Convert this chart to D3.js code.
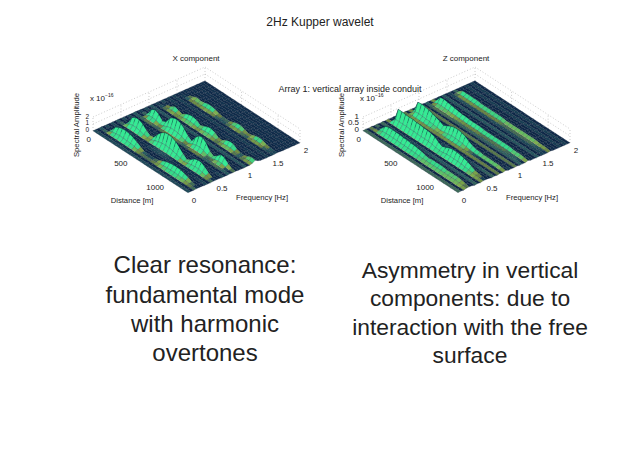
<!DOCTYPE html>
<html>
<head>
<meta charset="utf-8">
<script src="https://cdn.jsdelivr.net/npm/d3@7"></script>
<style>
body { margin:0; background:#fff; }
text { font-family:"Liberation Sans", Arial, sans-serif; fill:#222; }
</style>
</head>
<body>
<div id="chart"></div>
<script>
// distance rows, every 50 m
var distances = [0,50,100,150,200,250,300,350,400,450,500,550,600,650,700,750,800,850,900,950,1000,1050,1100,1150,1200,1250,1300];
// frequency columns, every 0.05 Hz
var freqs = [0,.05,.1,.15,.2,.25,.3,.35,.4,.45,.5,.55,.6,.65,.7,.75,.8,.85,.9,.95,1,1.05,1.1,1.15,1.2,1.25,1.3,1.35,1.4,1.45,1.5,1.55,1.6,1.65,1.7,1.75,1.8,1.85,1.9,1.95,2];

// shape of a ridge across frequency, columns -3..+3
var crossSection = [0,.03,.32,1,.3,.03,0];
// low level of the floor at each frequency column
var floorLevel = [.02,.05,.02,.06,.02,.05,.02,.05,.02,.06,.02,.05,.02,.05,.02,.06,.02,.04,.01,.04,.01,.05,.01,.03,.01,.04,.01,.03,.01,.03,.01,.02,.01,.02,.01,.02,.01,.02,.01,.02,.01];

var xRidgeCols = [4,10,17,24,32];
var xRidge1 = [0,0,.1,.9,1.2,1.4,1.4,1.3,1.1,.8,.4,.15,.1,.1,.1,.2,.45,.7,.85,.95,.95,.9,.7,.5,.2,.1,.05];
var xRidge2 = [0,0,.1,1.2,1.6,1.6,1.3,.7,.3,.4,1.2,1.8,2.2,2.3,2.2,1.9,1.4,.8,.3,.6,1.1,1.3,1.3,.9,.4,.1,.05];
var xRidge3 = [0,0,.1,1.1,1.4,1.1,.4,.7,1.6,2,2.1,1.9,1.4,.7,.3,1.2,1.8,1.9,1.4,.5,.2,.6,1.1,1,.4,.1,.05];
var xRidge4 = [0,0,.1,.25,.6,.4,.2,.55,.8,.85,.7,.3,.5,.8,.85,.6,.2,.2,.55,.75,.7,.3,.1,.1,.3,.5,.4];
var xRidge5 = [0,0,.05,.2,.4,.3,.4,.55,.55,.4,.2,.1,.1,.1,.3,.5,.5,.3,.1,.2,.4,.5,.4,.2,.1,.05,.05];

var zRidgeCols = [4,10,17,25,33];
var zRidge1 = [0,0,.15,.5,.6,.6,.6,.6,.55,.55,.5,.5,.45,.4,.3,.25,.3,.3,.3,.3,.25,.25,.25,.25,.2,.15,.08];
var zRidge2 = [0,.1,1.05,1.05,1,1,1,.95,.95,.9,.9,.85,.75,.55,.4,.5,.65,.7,.7,.65,.6,.5,.35,.2,.15,.1,.05];
var zRidge3 = [0,.1,.9,.95,.9,.85,.75,.65,.55,.4,.55,.7,.8,.8,.75,.65,.45,.3,.2,.2,.15,.15,.15,.15,.15,.1,.05];
var zRidge4 = [0,.1,.5,.55,.5,.45,.4,.35,.3,.3,.25,.25,.25,.25,.2,.2,.2,.2,.2,.2,.2,.2,.15,.15,.15,.1,.05];
var zRidge5 = [0,.05,.25,.25,.25,.25,.25,.2,.2,.2,.2,.2,.2,.2,.15,.15,.15,.15,.15,.15,.15,.15,.15,.1,.1,.08,.04];

var freqTicks = [0,.5,1,1.5,2];
var distTicks = [0,500,1000];
var xAmpTicks = [0,1,2];
var zAmpTicks = [0,.5,1];

var bigLeft = ["Clear resonance:","fundamental mode","with harmonic","overtones"];
var bigRight = ["Asymmetry in vertical","components: due to","interaction with the free","surface"];

var svg = d3.select("#chart").append("svg").attr("width",640).attr("height",452);

// colour of a cell from how far it rises towards the viewer, in pixels
var riseColor = d3.scaleLinear()
	.domain([-1,-.2,.05,.3,.6,1.2,2,3])
	.range(["#0d2a48","#0e2848","#11304e","#2a5f62","#6a8443","#7fae4c","#35d888","#36ea94"])
	.clamp(true);

function buildGrid(cols, ridges){
	return distances.map(function(d,i){
		return freqs.map(function(f,j){
			var v = floorLevel[j];
			cols.forEach(function(c,r){
				var k = j-c+3;
				if (k>=0 && k<crossSection.length) v += ridges[r][i]*crossSection[k];
			});
			return v;
		});
	});
}

function drawPanel(dx, title, cols, ridges, kz, ampTicks, ylabelX, ampFont){
	var g = svg.append("g").attr("transform","translate("+dx+",0)");
	var topH = 14;

	// floor projection, the four corners of the box
	var xD = d3.scaleLinear().domain([0,1300]).range([0,95]);
	var yD = d3.scaleLinear().domain([0,1300]).range([0,62]);
	var xF = d3.scaleLinear().domain([0,2]).range([0,112]);
	var yF = d3.scaleLinear().domain([0,2]).range([0,-50]);
	var yZ = d3.scaleLinear().domain([0,1]).range([0,kz]);
	function px(d,f){ return 93+xD(d)+xF(f); }
	function py(d,f,a){ return 131+yD(d)+yF(f)-yZ(a||0); }

	// dotted back walls
	var walls = g.append("g").attr("fill","none").attr("stroke","#aaa").attr("stroke-width",.6).attr("stroke-dasharray","1,2");
	function wall(x1,y1,x2,y2){ walls.append("line").attr("x1",x1).attr("y1",y1).attr("x2",x2).attr("y2",y2); }
	[0,.5,1].forEach(function(t){
		wall(px(0,0),py(0,0)-topH*t,px(0,2),py(0,2)-topH*t);
		wall(px(0,2),py(0,2)-topH*t,px(1300,2),py(1300,2)-topH*t);
	});
	freqTicks.forEach(function(f){ wall(px(0,f),py(0,f),px(0,f),py(0,f)-topH); });
	[500,1000,1300].forEach(function(d){ wall(px(d,2),py(d,2),px(d,2),py(d,2)-topH); });

	var grid = buildGrid(cols, ridges);
	var cells = g.append("g");
	// far to near: high frequency first, small distance first
	for (var j=freqs.length-2; j>=0; j--){
		for (var i=0; i<distances.length-1; i++){
			var a=grid[i][j], b=grid[i+1][j], c=grid[i+1][j+1], e=grid[i][j+1];
			var pts = [
				[px(distances[i],freqs[j]),py(distances[i],freqs[j],a)],
				[px(distances[i+1],freqs[j]),py(distances[i+1],freqs[j],b)],
				[px(distances[i+1],freqs[j+1]),py(distances[i+1],freqs[j+1],c)],
				[px(distances[i],freqs[j+1]),py(distances[i],freqs[j+1],e)]
			];
			var rise = (c+e-a-b)/2*kz;
			cells.append("path")
				.attr("d","M"+pts.join("L")+"Z")
				.attr("fill",riseColor(rise))
				.attr("stroke","#081a30")
				.attr("stroke-opacity",.6)
				.attr("stroke-width",.35);
			// pale line where a tall face meets the floor
			if (rise>1 && (a+b)/2*kz<.8){
				cells.append("line")
					.attr("x1",pts[0][0]).attr("y1",pts[0][1])
					.attr("x2",pts[1][0]).attr("y2",pts[1][1])
					.attr("stroke","#f0ee9c")
					.attr("stroke-width",.8);
			}
		}
	}

	// title
	g.append("text").attr("x",196).attr("y",61).attr("text-anchor","middle").attr("font-size",8).text(title);

	// tick labels along the floor edges
	freqTicks.forEach(function(f){
		g.append("text").attr("x",px(1300,f)+6).attr("y",py(1300,f)+10).attr("text-anchor","middle").attr("font-size",8).text(f);
	});
	distTicks.forEach(function(d){
		g.append("text").attr("x",px(d,0)-2).attr("y",py(d,0)+11).attr("text-anchor","end").attr("font-size",8).text(d);
	});
	ampTicks.forEach(function(a){
		g.append("text").attr("x",89).attr("y",py(0,0,a)+.5).attr("text-anchor","end").attr("font-size",ampFont).text(a);
	});
	g.append("text").attr("x",105).attr("y",101).attr("text-anchor","end").attr("font-size",8).text("x 10");
	g.append("text").attr("x",105).attr("y",97).attr("font-size",5).text("−16");
	g.append("text").attr("x",132).attr("y",203).attr("text-anchor","middle").attr("font-size",7.7).text("Distance [m]");
	g.append("text").attr("x",262).attr("y",200).attr("text-anchor","middle").attr("font-size",7.7).text("Frequency [Hz]");
	g.append("text").attr("transform","translate("+ylabelX+",125) rotate(-90)").attr("text-anchor","middle").attr("font-size",7.7).text("Spectral Amplitude");
}

drawPanel(0,"X component",xRidgeCols,[xRidge1,xRidge2,xRidge3,xRidge4,xRidge5],6.5,xAmpTicks,79,6.5);
drawPanel(270,"Z component",zRidgeCols,[zRidge1,zRidge2,zRidge3,zRidge4,zRidge5],13,zAmpTicks,74,8);

svg.append("text").attr("x",320).attr("y",26).attr("text-anchor","middle").attr("font-size",12).text("2Hz Kupper wavelet");
svg.append("text").attr("x",350).attr("y",92).attr("text-anchor","middle").attr("font-size",9).text("Array 1: vertical array inside conduit");

bigLeft.forEach(function(t,i){
	svg.append("text").attr("x",205).attr("y",[273,303,332,361][i]).attr("text-anchor","middle").attr("font-size",24).text(t);
});
bigRight.forEach(function(t,i){
	svg.append("text").attr("x",470).attr("y",[278,306,335,363][i]).attr("text-anchor","middle").attr("font-size",22.8).text(t);
});
</script>
</body>
</html>
